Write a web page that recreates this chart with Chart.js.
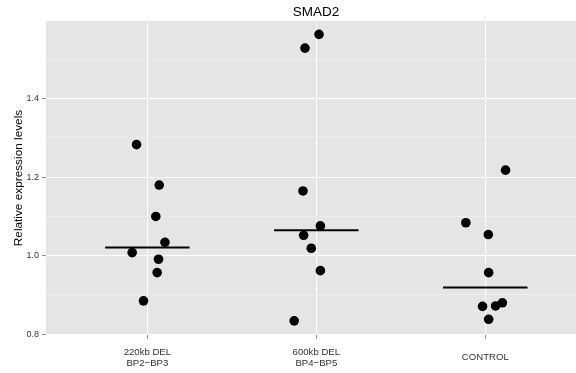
<!DOCTYPE html>
<html>
<head>
<meta charset="utf-8">
<script src="https://cdn.jsdelivr.net/npm/chart.js@4.4.1/dist/chart.umd.min.js"></script>
<style>
  html, body { margin: 0; padding: 0; background: #ffffff; overflow: hidden; }
  #wrap { position: relative; width: 632px; height: 373px; }
</style>
</head>
<body>
<div id="wrap"><canvas id="c" width="632" height="373"></canvas></div>
<script>
// ---- data ----
const chartTitle = "SMAD2";
const yAxisTitle = "Relative expression levels";
const categories = [["220kb DEL", "BP2\u2212BP3"], ["600kb DEL", "BP4\u2212BP5"], ["CONTROL"]];

const del220Values = [1.283, 1.180, 1.100, 1.034, 1.008, 0.991, 0.957, 0.885];
const del220Jitter = [-0.064, 0.070, 0.050, 0.104, -0.090, 0.066, 0.058, -0.023];

const del600Values = [1.564, 1.529, 1.165, 1.076, 1.052, 1.019, 0.962, 0.834];
const del600Jitter = [0.016, -0.067, -0.079, 0.024, -0.075, -0.030, 0.024, -0.131];

const controlValues = [1.218, 1.084, 1.054, 0.957, 0.880, 0.872, 0.871, 0.838];
const controlJitter = [0.120, -0.115, 0.018, 0.020, 0.101, 0.061, -0.016, 0.020];

const medians = [1.021, 1.065, 0.919];

const yMajorTicks = [0.8, 1.0, 1.2, 1.4];
const yMinorTicks = [0.9, 1.1, 1.3, 1.5];

// ---- build datasets ----
const groups = [
  { values: del220Values, jitter: del220Jitter },
  { values: del600Values, jitter: del600Jitter },
  { values: controlValues, jitter: controlJitter }
];

const pointData = [];
groups.forEach((g, i) => {
  g.values.forEach((v, k) => pointData.push({ x: i + g.jitter[k], y: v }));
});

const datasets = [];
medians.forEach((m, i) => {
  datasets.push({
    type: 'line',
    data: [{ x: i - 0.25, y: m }, { x: i + 0.25, y: m }],
    borderColor: '#000000',
    borderWidth: 2,
    pointRadius: 0,
    fill: false,
    order: 2
  });
});
datasets.push({
  type: 'scatter',
  data: pointData,
  backgroundColor: '#000000',
  borderColor: '#000000',
  borderWidth: 0,
  pointRadius: 4.8,
  pointHoverRadius: 4.8,
  order: 1
});

const allYTicks = yMajorTicks.concat(yMinorTicks).sort((a, b) => a - b);
const isMajor = v => yMajorTicks.some(t => Math.abs(t - v) < 1e-6);

const panelBg = {
  id: 'panelBg',
  beforeDraw(chart) {
    const a = chart.chartArea, ctx = chart.ctx;
    ctx.save();
    ctx.fillStyle = '#e5e5e5';
    ctx.fillRect(a.left, a.top, a.right - a.left, a.bottom - a.top);
    ctx.restore();
  }
};

const FONT = "'Liberation Sans', Arial, Helvetica, sans-serif";

new Chart(document.getElementById('c'), {
  data: { datasets },
  plugins: [panelBg],
  options: {
    responsive: false,
    animation: false,
    events: [],
    layout: { padding: { top: 0, right: 0, bottom: 0, left: 0 } },
    plugins: {
      legend: { display: false },
      tooltip: { enabled: false },
      title: {
        display: true,
        text: chartTitle,
        color: '#000000',
        font: { family: FONT, size: 13.5, weight: 'normal', lineHeight: 1.2 },
        padding: { top: 4, bottom: 0.8 }
      }
    },
    scales: {
      x: {
        type: 'linear',
        min: -0.6,
        max: 2.84,
        afterBuildTicks(scale) {
          scale.ticks = categories.map((c, i) => ({ value: i }));
        },
        afterFit(scale) { scale.height = 38; },
        border: { display: false },
        grid: {
          color: '#ffffff',
          lineWidth: 1.1,
          drawTicks: true,
          tickLength: 4,
          tickColor: '#8c8c8c',
          tickWidth: 1
        },
        ticks: {
          autoSkip: false,
          maxRotation: 0,
          minRotation: 0,
          crossAlign: 'center',
          padding: 13,
          color: '#333333',
          font: { family: FONT, size: 9.6, lineHeight: 1.15 },
          callback: (v) => categories[Math.round(v)]
        }
      },
      y: {
        type: 'linear',
        min: 0.798,
        max: 1.598,
        afterBuildTicks(scale) {
          scale.ticks = allYTicks.map(v => ({ value: v }));
        },
        afterFit(scale) { scale.width = 46; },
        border: { display: false },
        title: {
          display: true,
          text: yAxisTitle,
          color: '#000000',
          font: { family: FONT, size: 11.8, lineHeight: 1.2 },
          padding: { top: 11.5, bottom: 0 }
        },
        grid: {
          color: (ctx) => (ctx.tick && isMajor(ctx.tick.value)) ? '#ffffff' : '#f2f2f2',
          lineWidth: (ctx) => (ctx.tick && isMajor(ctx.tick.value)) ? 1.1 : 0.6,
          drawTicks: true,
          tickLength: 4,
          tickColor: (ctx) => (ctx.tick && isMajor(ctx.tick.value)) ? '#8c8c8c' : 'rgba(0,0,0,0)',
          tickWidth: 1
        },
        ticks: {
          autoSkip: false,
          padding: 3,
          color: '#333333',
          font: { family: FONT, size: 9 },
          callback: (v) => isMajor(v) ? Number(v).toFixed(1) : ''
        }
      }
    }
  }
});
</script>
</body>
</html>
